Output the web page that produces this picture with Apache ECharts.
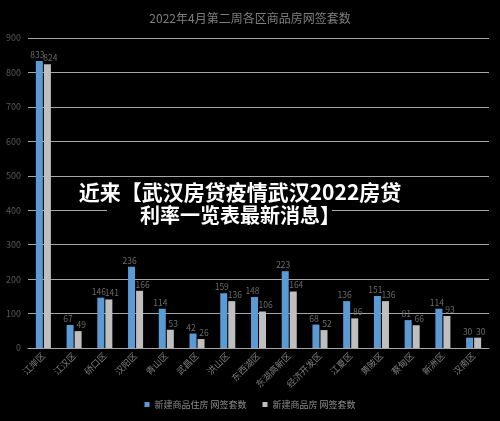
<!DOCTYPE html>
<html>
<head>
<meta charset="utf-8">
<script src="https://cdn.jsdelivr.net/npm/echarts@6/dist/echarts.min.js"></script>
<style>html,body{margin:0;padding:0;background:#000;}#c{width:500px;height:421px;}</style>
</head>
<body>
<div id="c"></div>
<script>
const categories = ['江岸区','江汉区','硚口区','汉阳区','青山区','武昌区','洪山区','东西湖区','东湖高新区','经济开发区','江夏区','黄陂区','蔡甸区','新洲区','汉南区'];
const residential = [833,67,146,236,114,42,159,148,223,68,136,151,81,114,30];
const commercial = [824,49,141,166,53,26,136,106,164,52,86,136,66,93,30];
const seriesNames = ['新建商品住房 网签套数','新建商品房 网签套数'];
const titleText = '2022年4月第二周各区商品房网签套数';
const overlayLines = ['近来【武汉房贷疫情武汉2022房贷', '利率一览表最新消息】'];

const font = '"Noto Sans CJK SC", "Noto Sans", sans-serif';
const chart = echarts.init(document.getElementById('c'));
chart.setOption({
  backgroundColor: '#000',
  animation: false,
  title: {
    text: titleText, left: 'center', top: 7,
    textStyle: {color: '#7f7f7f', fontSize: 12, fontWeight: 'normal', fontFamily: font}
  },
  legend: {
    bottom: 7, left: 'center', itemWidth: 5, itemHeight: 5, itemGap: 16,
    icon: 'rect',
    textStyle: {color: '#8c8c8c', fontSize: 9, fontFamily: font}
  },
  grid: {left: 28, right: 11, top: 38, bottom: 73},
  xAxis: {
    type: 'category', data: categories,
    axisLine: {lineStyle: {color: '#a6a6a6'}},
    axisTick: {show: false},
    axisLabel: {rotate: 45, color: '#7f7f7f', fontSize: 9, fontFamily: font, interval: 0, margin: 6}
  },
  yAxis: {
    type: 'value', min: 0, max: 900, interval: 100,
    axisLine: {show: false}, axisTick: {show: false},
    axisLabel: {color: '#595959', fontSize: 9, fontFamily: font, margin: 7},
    splitLine: {lineStyle: {color: '#a6a6a6', width: 1}}
  },
  series: [
    {name: seriesNames[0], type: 'bar', data: residential, barWidth: 7, barGap: '15%',
     itemStyle: {color: '#5b9bd5'},
     label: {show: true, position: 'top', color: '#6b6b6b', fontSize: 8.5, distance: 2, offset: [-2, 0], fontFamily: font}},
    {name: seriesNames[1], type: 'bar', data: commercial, barWidth: 7,
     itemStyle: {color: '#bfbfbf'},
     label: {show: true, position: 'top', color: '#6b6b6b', fontSize: 8.5, distance: 2, offset: [3, 0], fontFamily: font}}
  ],
  graphic: [
    {type: 'rect', left: 107, top: 205, shape: {width: 225, height: 32}, style: {fill: '#000'}, z: 100},
    {type: 'text', x: 240, y: 182, z: 101,
     style: {text: overlayLines[0], align: 'center', fill: '#fff', font: 'bold 21px ' + font, stroke: '#000', lineWidth: 3}},
    {type: 'text', x: 240, y: 205, z: 101,
     style: {text: overlayLines[1], align: 'center', fill: '#fff', font: 'bold 20px ' + font, stroke: '#000', lineWidth: 3}}
  ]
});
</script>
</body>
</html>
